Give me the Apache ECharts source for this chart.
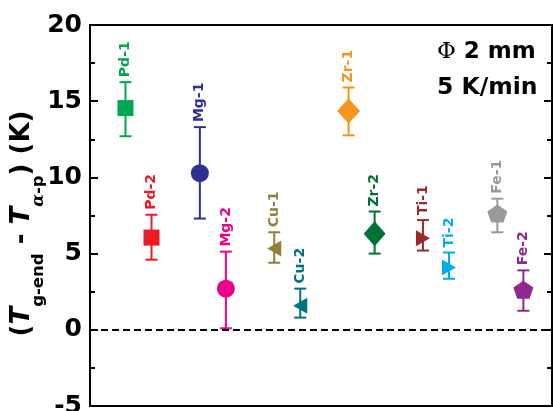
<!DOCTYPE html>
<html><head><meta charset="utf-8">
<script src="https://cdn.jsdelivr.net/npm/echarts@6/dist/echarts.min.js"></script>
<style>html,body{margin:0;padding:0;background:#fff}#c{width:553px;height:411px}</style>
</head><body><div id="c"></div>
<script>
// ---- data ----
const samples = ['Pd-1','Pd-2','Mg-1','Mg-2','Cu-1','Cu-2','Zr-1','Zr-2','Ti-1','Ti-2','Fe-1','Fe-2'];
const groupIndex = [0,0,1,1,2,2,3,3,4,4,5,5];
const values  = [14.55, 6.05, 10.28, 2.7, 5.33, 1.58, 14.35, 6.3, 6.0, 4.08, 7.63, 2.63];
const errHigh = [16.25, 7.55, 13.3, 5.13, 6.4, 2.7, 15.9, 7.76, 7.2, 5.07, 8.6, 3.9];
const errLow  = [12.7, 4.6, 7.3, 0.1, 4.4, 0.8, 12.76, 5.0, 5.2, 3.35, 6.4, 1.25];
const yMin = -5, yMax = 20, yStep = 5;

// ---- styles ----
const colors = ['#00a650','#ed1c24','#2e3192','#ec008c','#937e3a','#00737a','#f7941d','#007236','#9b2a2d','#00aeef','#9a9a9a','#92278f'];
const pent = 'path://M0,-10 L9.51,-3.09 L5.88,8.09 L-5.88,8.09 L-9.51,-3.09 Z';
const symbols = ['rect','rect','circle','circle','triangle','triangle','diamond','diamond','triangle','triangle',pent,pent];
const symbolSizes = [16,16,18,18,[16,14],[16,14],[23,25],[22,25],[16,14],[16,14],[20,18],[20,18]];
const symbolRotates = [0,0,0,0,90,90,0,0,-90,-90,0,0];
const pairOffset = 0.175;
const xPos = groupIndex.map((g,i) => g + (i % 2 === 0 ? -pairOffset : pairOffset));
const F = '"DejaVu Sans"';

const chart = echarts.init(document.getElementById('c'), null, {renderer:'canvas'});

const yAxisCommon = {
  type:'value', min:yMin, max:yMax, interval:yStep,
  axisLine:{show:true, onZero:false, lineStyle:{color:'#000', width:2}},
  axisTick:{show:true, inside:true, length:8, lineStyle:{color:'#000', width:2}},
  minorTick:{show:true, splitNumber:2, length:5, lineStyle:{color:'#000', width:2}},
  splitLine:{show:false}
};

chart.setOption({
  animation:false,
  backgroundColor:'#fff',
  grid:{left:90, right:1, top:25, bottom:5, show:true, borderColor:'#000', borderWidth:2,
        containLabel:false, outerBoundsMode:'none'},
  xAxis:{type:'value', min:-0.652, max:5.56, show:false},
  yAxis:[
    Object.assign({}, yAxisCommon, {
      position:'left',
      axisLabel:{fontFamily:F, fontWeight:'bold', fontSize:25, color:'#000', margin:8},
      name:'{p|(}{t|T}{s|g-end}{p| - }{t|T}{a|α}{s|-p}{p|) (K)}',
      nameLocation:'middle', nameRotate:90, nameGap:51, nameMoveOverlap:false,
      nameTextStyle:{
        padding:[0,16,0,0],
        rich:{
          p:{fontFamily:F, fontWeight:'bold', fontSize:26, color:'#000', lineHeight:30, verticalAlign:'top'},
          t:{fontFamily:F, fontWeight:'bold', fontStyle:'italic', fontSize:26, color:'#000', lineHeight:30, verticalAlign:'top'},
          s:{fontFamily:F, fontWeight:'bold', fontSize:16.5, color:'#000', lineHeight:17, padding:[21,0,0,0], verticalAlign:'top'},
          a:{fontFamily:'"DejaVu Serif"', fontWeight:'bold', fontStyle:'italic', fontSize:16.5, color:'#000', lineHeight:17, padding:[21,0,0,0], verticalAlign:'top'}
        }
      }
    }),
    Object.assign({}, yAxisCommon, {position:'right', axisLabel:{show:false}})
  ],
  graphic:[
    {type:'text', left:437, top:41, style:{text:'{f|Φ}{b| 2 mm}', rich:{
      f:{fontFamily:'"DejaVu Serif"', fontSize:23, color:'#000'},
      b:{fontFamily:F, fontWeight:'bold', fontSize:23, color:'#000'}}}},
    {type:'text', left:437, top:76, style:{text:'5 K/min', fontFamily:F, fontWeight:'bold', fontSize:23.5, fill:'#000'}}
  ],
  series:[
    {
      type:'custom', z:2,
      data: xPos.map((x,i) => [x, errLow[i], errHigh[i]]),
      encode:{x:0, y:[1,2]},
      renderItem:function(params, api){
        const i = params.dataIndex;
        const x = api.value(0);
        const pHi = api.coord([x, api.value(2)]);
        const pLo = api.coord([x, api.value(1)]);
        const c = colors[i];
        const cap = 6;
        const st = {stroke:c, lineWidth:2};
        return {type:'group', children:[
          {type:'line', shape:{x1:pHi[0], y1:pHi[1], x2:pLo[0], y2:pLo[1]}, style:st},
          {type:'line', shape:{x1:pHi[0]-cap, y1:pHi[1], x2:pHi[0]+cap, y2:pHi[1]}, style:st},
          {type:'line', shape:{x1:pLo[0]-cap, y1:pLo[1], x2:pLo[0]+cap, y2:pLo[1]}, style:st},
          {type:'text', x:pHi[0], y:pHi[1]-5, rotation:Math.PI/2,
            style:{text:samples[i], fill:c, font:'bold 14px "DejaVu Sans"', align:'left', verticalAlign:'middle'}}
        ]};
      },
      markLine:{silent:true, symbol:'none', label:{show:false},
        lineStyle:{type:[7,4], color:'#000', width:2},
        data:[{yAxis:0}]}
    },
    {
      type:'scatter', z:3,
      data: xPos.map((x,i) => ({
        value:[x, values[i]],
        symbol:symbols[i], symbolSize:symbolSizes[i], symbolRotate:symbolRotates[i],
        itemStyle:{color:colors[i], opacity:1}
      }))
    }
  ]
});
</script>
</body></html>
